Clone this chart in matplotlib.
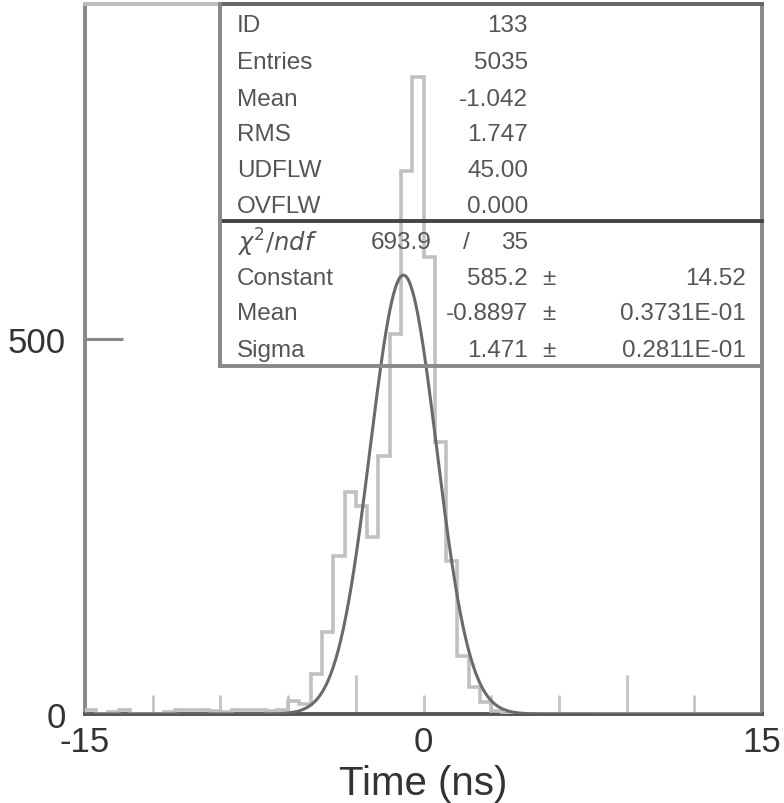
import numpy as np
import matplotlib
matplotlib.use("Agg")
import matplotlib.pyplot as plt

plt.rcParams['font.family'] = ['Liberation Sans', 'DejaVu Sans']

# histogram, 60 bins of 0.5 ns from -15 to 15
edges = np.linspace(-15, 15, 61)
counts = np.array([6, 0, 3, 6, 0, 0, 0, 3, 6, 6, 6, 4, 3, 6, 6, 5, 4, 5, 18, 14,
                   53, 109, 211, 296, 278, 236, 344, 507, 724, 850, 609, 363, 204, 77, 36, 16, 4]
                  + [0] * 23)

# gaussian fit parameters
g_const, g_mean, g_sigma = 585.2, -0.8897, 1.471

stat_names = ['ID', 'Entries', 'Mean', 'RMS', 'UDFLW', 'OVFLW']
stat_vals = ['133', '5035', '-1.042', '1.747', '45.00', '0.000']
fit_names = ['Constant', 'Mean', 'Sigma']
fit_vals = ['585.2', '-0.8897', '1.471']
fit_errs = ['14.52', '0.3731E-01', '0.2811E-01']
chi2, ndf = '693.9', '35'

fig = plt.figure(figsize=(7.84, 8.04), dpi=100)
ax = fig.add_axes([85/784, 89/804, 677/784, 710/804])

ax.stairs(counts, edges, color='#c0c0c0', lw=2.6, zorder=3)
t = np.linspace(-15, 15, 800)
ax.plot(t, g_const * np.exp(-0.5 * ((t - g_mean) / g_sigma)**2), color='#6a6a6a', lw=2.2, zorder=4)

ax.set_xlim(-15, 15)
ax.set_ylim(0, 946.7)

for side, c in [('left', '#888888'), ('right', '#888888'), ('top', '#bdbdbd'), ('bottom', '#555555')]:
    ax.spines[side].set_color(c)
    ax.spines[side].set_linewidth(2.8)

# x ticks
ax.set_xticks([-15, -3, 0, 9, 15])
ax.set_xticklabels(['-15', '', '0', '', '15'])
ax.set_xticks([-12, -9, -6, 3, 6, 12], minor=True)
ax.tick_params(axis='x', which='major', direction='in', length=28, width=2, color='#c4c4c4',
               labelsize=25, labelcolor='#333333', pad=8)
ax.tick_params(axis='x', which='minor', direction='in', length=14, width=2, color='#c4c4c4')
for tk, v in zip(ax.xaxis.get_major_ticks(), [-15, -3, 0, 9, 15]):
    if v in (-15, 15):
        tk.tick1line.set_markersize(0)
    elif v == 0:
        tk.tick1line.set_markersize(14)

# y ticks
ax.set_yticks([0, 500])
ax.set_yticklabels(['0', '500'])
ax.tick_params(axis='y', direction='in', length=27, width=2.2, color='#888888',
               labelsize=25, labelcolor='#333333', pad=14)
ax.yaxis.get_major_ticks()[0].tick1line.set_markersize(0)
ax.tick_params(top=False, right=False)

ax.set_xlabel('Time (ns)', fontsize=29, color='#333333', labelpad=4)

# statistics box
def axp(px, py):
    return (px - 85) / 677, (715 - py) / 710

tr = ax.transAxes
x0, ytop = axp(220, 5)
_, ysep = axp(0, 222)
_, ybot = axp(0, 367)
ax.plot([x0, 1], [ytop, ytop], color='#666666', lw=2.8, transform=tr, clip_on=False, zorder=5)
ax.plot([x0, 1], [ysep, ysep], color='#444444', lw=2.8, transform=tr, clip_on=False, zorder=5)
ax.plot([x0, 1], [ybot, ybot], color='#888888', lw=2.8, transform=tr, clip_on=False, zorder=5)
ax.plot([x0, x0], [ybot, ytop], color='#888888', lw=2.8, transform=tr, clip_on=False, zorder=5)

txt = dict(fontsize=17.5, color='#555555', transform=tr, va='center', zorder=6)
rows_y = [26, 63, 100, 135, 171, 207]
for name, val, py in zip(stat_names, stat_vals, rows_y):
    ax.text(*axp(237, py), name, ha='left', **txt)
    ax.text(*axp(528, py), val, ha='right', **txt)

ax.text(*axp(237, 243), r'$\chi^2/ndf$', ha='left', **txt)
ax.text(*axp(432, 243), chi2, ha='right', **txt)
ax.text(*axp(466, 243), '/', ha='center', **txt)
ax.text(*axp(528, 243), ndf, ha='right', **txt)

fit_y = [279, 314, 351]
for name, val, err, py in zip(fit_names, fit_vals, fit_errs, fit_y):
    ax.text(*axp(237, py), name, ha='left', **txt)
    ax.text(*axp(528, py), val, ha='right', **txt)
    ax.text(*axp(549, py), '\u00b1', ha='center', **txt)
    ax.text(*axp(746, py), err, ha='right', **txt)

fig.savefig('out.png', dpi=100)
